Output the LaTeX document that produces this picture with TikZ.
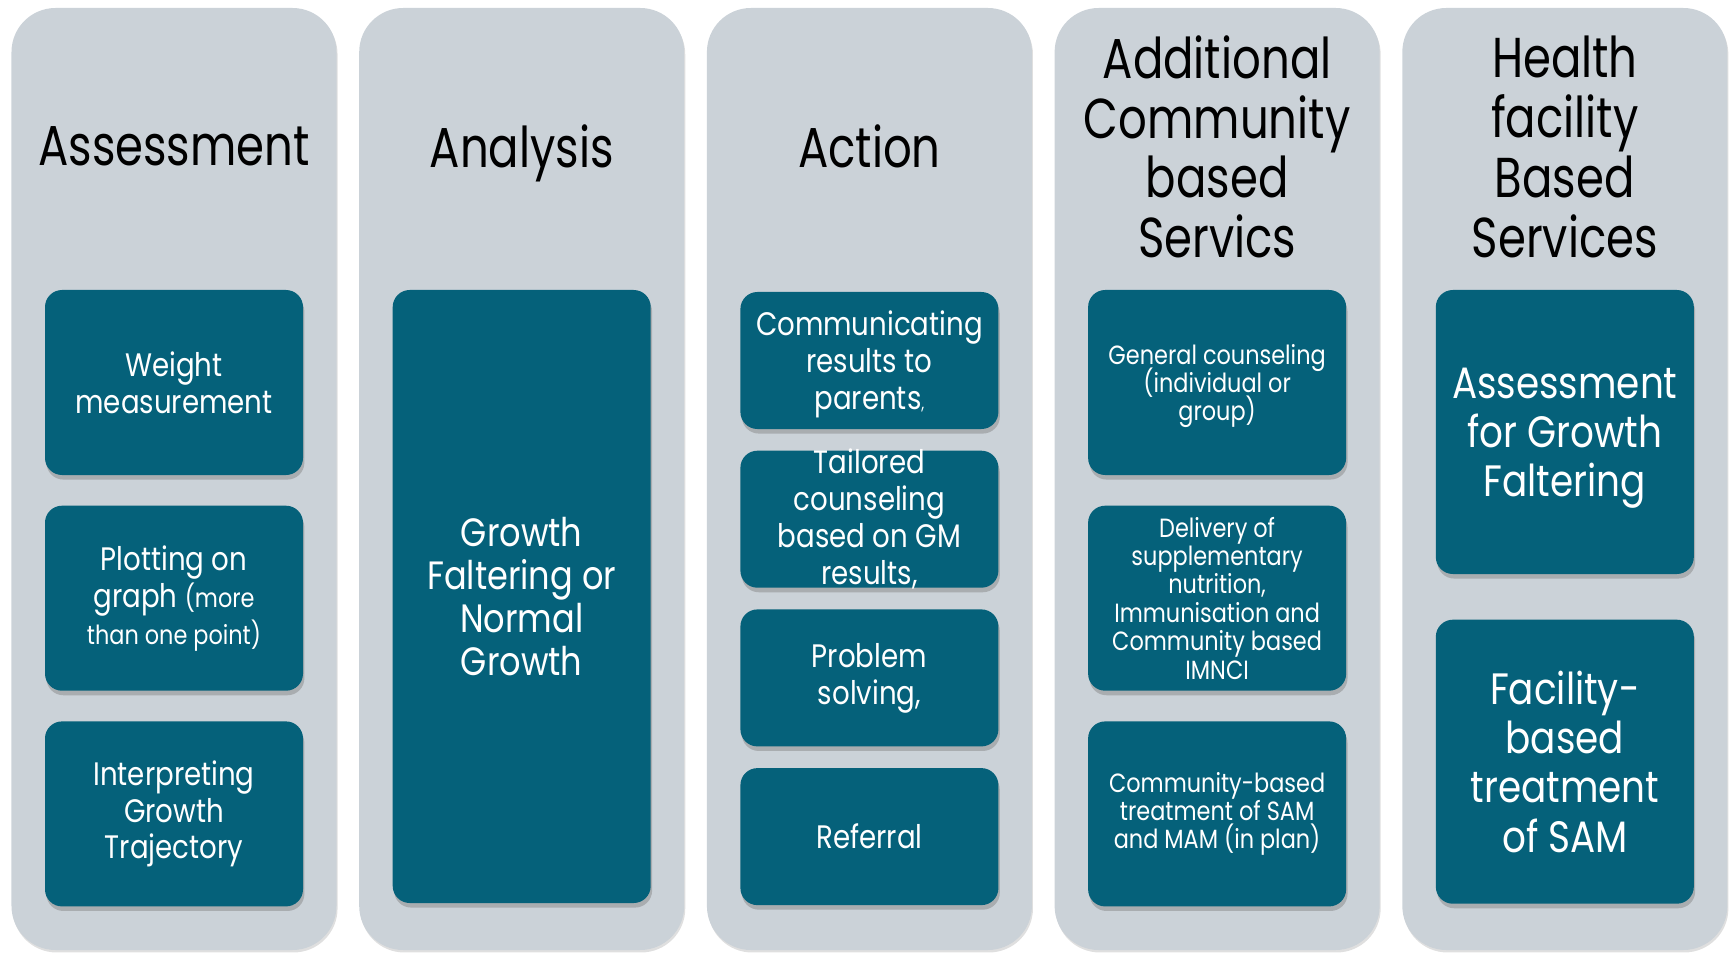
\documentclass[tikz,border=0pt]{standalone}
\usepackage{fontspec}
\setmainfont[FakeStretch=0.85]{Poppins}
\newfontfamily\headfont[FakeStretch=0.8]{Poppins}
\usepackage{tikz}
\usetikzlibrary{positioning,shadows}

\definecolor{panelgray}{RGB}{203,210,216}
\definecolor{stepteal}{RGB}{5,97,122}

\begin{document}
\begin{tikzpicture}[
    node distance=0.6cm and 0.44cm,
    column/.style={fill=panelgray,rounded corners=0.88cm,minimum width=6.5cm,minimum height=18.84cm,inner sep=0pt,
      drop shadow={shadow xshift=0.6pt,shadow yshift=-1.4pt,opacity=0.25}},
    head/.style={align=center,text=black,text depth=0pt,font=\headfont\fontsize{32}{34}\selectfont},
    stage/.style={fill=stepteal,text=white,rounded corners=0.34cm,minimum width=5.16cm,inner sep=2pt,align=center,
      font=\fontsize{18.5}{21}\selectfont,
      drop shadow={shadow xshift=0.8pt,shadow yshift=-2.6pt,opacity=0.45}},
    tall/.style={stage,minimum height=3.7cm},
    short/.style={stage,minimum height=2.74cm},
    smallstage/.style={tall,font={\fontsize{15}{16.2}\selectfont\lineskiplimit-20pt\relax}}
    ]

    \useasboundingbox (0,0) rectangle (34.62,19.04);

    % the five panels
    \node[column] (col1) at (3.48,9.46) {};
    \node[column, right=of col1] (col2) {};
    \node[column, right=of col2] (col3) {};
    \node[column, right=of col3] (col4) {};
    \node[column, right=of col4] (col5) {};

    \node[head] (assess) at ([yshift=-2.76cm]col1.north) {Assessment};
    \node[head] (analyse) at ([yshift=-2.76cm]col2.north) {Analysis};
    \node[head] (act) at ([yshift=-2.76cm]col3.north) {Action};
    \node[head] (commsvc) at ([yshift=-2.78cm]col4.north) {Additional\\Community\\based\\Servics};
    \node[head] (facsvc) at ([yshift=-2.78cm]col5.north) {Health\\facility\\Based\\Services};

    % assessment
    \node[tall, below=5.64cm of col1.north] (weigh) {Weight\\measurement};
    \node[tall, below=of weigh] (plot) {Plotting on\\graph {\fontsize{15}{17}\selectfont(more}\\{\fontsize{15}{17}\selectfont than one point)}};
    \node[tall, below=of plot] (interp) {Interpreting\\Growth\\Trajectory};

    % analysis
    \node[stage, minimum height=12.26cm, font=\fontsize{22.5}{24.5}\selectfont, below=5.64cm of col2.north] (growth)
      {Growth\\Faltering or\\Normal\\Growth};

    % action
    \node[short, text depth=0pt, below=5.68cm of col3.north] (inform) {Communicating\\results to\\parents{\fontsize{10}{12}\selectfont,}};
    \node[short, inner ysep=-2pt, below=0.42cm of inform] (tailor) {Tailored\\counseling\\based on GM\\results,};
    \node[short, below=0.42cm of tailor] (solve) {Problem\\solving,};
    \node[short, below=0.42cm of solve] (refer) {Referral};

    % community based services
    \node[smallstage, text depth=0pt, below=5.64cm of col4.north] (counsel)
      {General counseling\\(individual or\\group)};
    \node[smallstage, below=of counsel] (supply)
      {Delivery of\\supplementary\\nutrition,\\Immunisation and\\Community based\\IMNCI};
    \node[smallstage, below=of supply] (cmam)
      {Community-based\\treatment of SAM\\and MAM (in plan)};

    % facility based services
    \node[stage, minimum height=5.68cm, text depth=0pt, font=\fontsize{25}{28}\selectfont, below=5.64cm of col5.north] (fassess)
      {Assessment\\for Growth\\Faltering};
    \node[stage, minimum height=5.68cm, font=\fontsize{25}{28}\selectfont, below=0.9cm of fassess] (ftreat)
      {Facility-\\based\\treatment\\of SAM};
\end{tikzpicture}
\end{document}
